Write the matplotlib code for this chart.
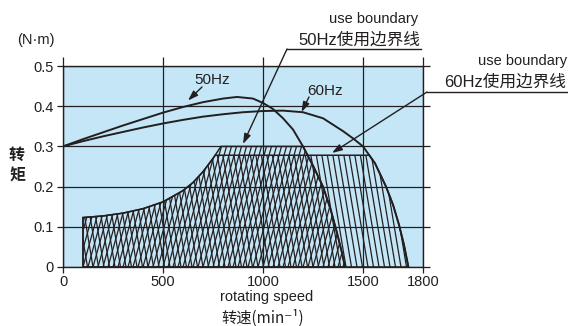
import matplotlib
matplotlib.use("agg")
import matplotlib.pyplot as plt
import numpy as np
from matplotlib.patches import Polygon
from matplotlib.collections import LineCollection

# torque curves (rpm, N·m)
rpm_50 = [0, 100, 200, 300, 400, 500, 600, 700, 800, 870, 950, 1000, 1050, 1100,
          1150, 1200, 1250, 1300, 1340, 1370, 1395, 1410]
tq_50 = [0.300, 0.318, 0.335, 0.352, 0.368, 0.384, 0.398, 0.410, 0.419, 0.423, 0.419,
         0.408, 0.393, 0.370, 0.342, 0.300, 0.252, 0.200, 0.140, 0.085, 0.035, 0.0]

rpm_60 = [0, 100, 200, 300, 400, 500, 600, 700, 800, 900, 1000, 1100, 1200, 1300,
          1400, 1450, 1500, 1560, 1615, 1650, 1680, 1705, 1727]
tq_60 = [0.300, 0.313, 0.325, 0.336, 0.347, 0.357, 0.366, 0.374, 0.380, 0.385, 0.388,
         0.389, 0.385, 0.370, 0.338, 0.320, 0.300, 0.258, 0.200, 0.155, 0.105, 0.055, 0.0]

# lower-left edge of the usable area
rpm_edge = [100, 100, 200, 300, 400, 500, 600, 650, 700, 750, 790]
tq_edge = [0.0, 0.123, 0.127, 0.134, 0.145, 0.162, 0.190, 0.210, 0.237, 0.270, 0.300]

top_50 = 0.300
top_60 = 0.278

x_ticks = [0, 500, 1000, 1500, 1800]
y_ticks = [0, 0.1, 0.2, 0.3, 0.4, 0.5]
y_labels = ["0", "0.1", "0.2", "0.3", "0.4", "0.5"]

ink = "#231f20"
blue = "#c5e6f6"
W, H = 568, 326
AX_L, AX_R, AX_T, AX_B = 63, 423, 66, 267
latin = ["Liberation Sans", "Noto Sans CJK SC", "DejaVu Sans"]
cjk = ["Noto Sans CJK SC", "DejaVu Sans"]

fig = plt.figure(figsize=(W / 100, H / 100), dpi=100)
ax = fig.add_axes([AX_L / W, 1 - AX_B / H, (AX_R - AX_L) / W, (AX_B - AX_T) / H])
ax.set_facecolor(blue)
ax.set_xlim(0, 1800)
ax.set_ylim(0, 0.5)

sx = (AX_R - AX_L) / 1800.0
sy = (AX_B - AX_T) / 0.5


def hatch(xs, ys, slope_px, step_px):
    patch = Polygon(np.column_stack([xs, ys]), closed=True, facecolor="none",
                    edgecolor=ink, lw=1.1, zorder=3)
    ax.add_patch(patch)
    dx_top = 0.5 * sy / (slope_px * sx)
    step = step_px / sx
    segs = []
    for x0 in np.arange(-400, 2200, step):
        segs.append([(x0, 0), (x0 + dx_top, 0.5)])
    lc = LineCollection(segs, colors=ink, linewidths=0.9, zorder=2)
    ax.add_collection(lc)
    lc.set_clip_path(patch)


# 50Hz region
e_x = np.array(rpm_edge)
e_y = np.array(tq_edge)
r50 = np.array(rpm_50)
t50 = np.array(tq_50)
k50 = r50 >= 1200
xs50 = list(e_x) + list(r50[k50])
ys50 = list(e_y) + list(t50[k50])
hatch(xs50, ys50, 3.6, 5.0)

# 60Hz region
r60 = np.array(rpm_60)
t60 = np.array(tq_60)
m = e_y < top_60
x_start = np.interp(top_60, e_y[1:], e_x[1:])
desc = r60 >= 1100
x_end = np.interp(top_60, t60[desc][::-1], r60[desc][::-1])
k60 = r60 > x_end
xs60 = list(e_x[m]) + [x_start, x_end] + list(r60[k60])
ys60 = list(e_y[m]) + [top_60, top_60] + list(t60[k60])
hatch(xs60, ys60, -6.0, 5.5)

ax.plot(rpm_50, tq_50, color=ink, lw=1.4, zorder=4)
ax.plot(rpm_60, tq_60, color=ink, lw=1.4, zorder=4)

ax.set_xticks(x_ticks)
ax.set_yticks(y_ticks)
ax.set_xticklabels([str(v) for v in x_ticks], family=latin, fontsize=10.5, color=ink)
ax.set_yticklabels(y_labels, family=latin, fontsize=10.5, color=ink)
ax.grid(True, color=ink, lw=0.9, zorder=2.5)
ax.set_axisbelow(False)
for s in ax.spines.values():
    s.set_color(ink)
    s.set_linewidth(1.0)
ax.tick_params(axis="x", direction="out", length=4, width=0.9, color=ink, pad=2,
               top=True)
ax.tick_params(axis="y", direction="out", length=4.5, width=0.9, color=ink, pad=2,
               right=True)
for t in ax.xaxis.get_major_ticks():
    t.tick2line.set_markersize(6.5)
for t in ax.yaxis.get_major_ticks():
    t.tick2line.set_markersize(5)


def dx(px):
    return (px - AX_L) / sx


def dy(py):
    return (AX_B - py) / sy


arrow = dict(arrowstyle="-|>,head_length=0.6,head_width=0.2", color=ink, lw=1.0,
             shrinkA=0, shrinkB=0)

ax.text(dx(212), dy(80), "50Hz", family=latin, fontsize=11, color=ink,
        ha="center", va="center")
ax.annotate("", xy=(dx(188), dy(100.5)), xytext=(dx(202), dy(87)),
            arrowprops=arrow, annotation_clip=False)
ax.text(dx(325), dy(91), "60Hz", family=latin, fontsize=11, color=ink,
        ha="center", va="center")
ax.annotate("", xy=(dx(301.5), dy(112)), xytext=(dx(309), dy(97)),
            arrowprops=arrow, annotation_clip=False)

# use boundary call-outs
ax.plot([dx(421), dx(287)], [dy(49), dy(49)], color=ink, lw=1.0, clip_on=False)
ax.annotate("", xy=(dx(243), dy(144)), xytext=(dx(287), dy(49)),
            arrowprops=arrow, annotation_clip=False)
ax.plot([dx(567), dx(427)], [dy(92), dy(92)], color=ink, lw=1.0, clip_on=False)
ax.annotate("", xy=(dx(332), dy(153)), xytext=(dx(427), dy(92)),
            arrowprops=arrow, annotation_clip=False)

fig.text(418 / W, 1 - 23 / H, "use boundary", family=latin, fontsize=10.5,
         color=ink, ha="right", va="baseline")
fig.text(420 / W, 1 - 45 / H, "50Hz使用边界线", family=latin, fontsize=12,
         color=ink, ha="right", va="baseline")
fig.text(567 / W, 1 - 65 / H, "use boundary", family=latin, fontsize=10.5,
         color=ink, ha="right", va="baseline")
fig.text(566 / W, 1 - 87 / H, "60Hz使用边界线", family=latin, fontsize=12,
         color=ink, ha="right", va="baseline")

fig.text(36 / W, 1 - 40 / H, "(N·m)", family=latin, fontsize=10.5, color=ink,
         ha="center", va="center")
fig.text(17 / W, 1 - 155 / H, "转", family=cjk, fontsize=11.5, weight="bold",
         color=ink, ha="center", va="center")
fig.text(17 / W, 1 - 176 / H, "矩", family=cjk, fontsize=11.5, weight="bold",
         color=ink, ha="center", va="center")
fig.text(267 / W, 1 - 301 / H, "rotating speed", family=latin, fontsize=10.5,
         color=ink, ha="center", va="baseline")
fig.text(263 / W, 1 - 323 / H, "转速(min⁻¹)", family=cjk, fontsize=11,
         color=ink, ha="center", va="baseline")

fig.savefig("out.png", dpi=100)
